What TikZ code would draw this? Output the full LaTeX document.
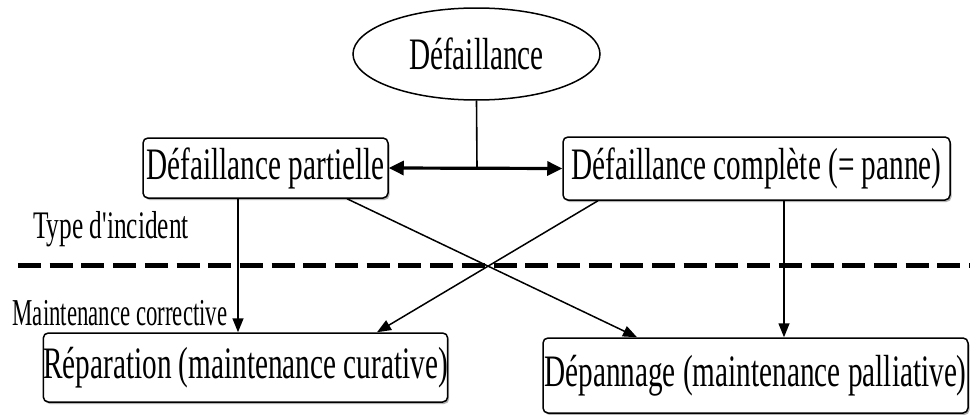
\documentclass[tikz,border=0pt]{standalone}
\usepackage{fontspec}
\usepackage{graphicx}
\setmainfont{Liberation Serif}
\usetikzlibrary{arrows.meta,shapes.geometric,shadows}
\newcommand\sqz[2][0.65]{\scalebox{#1}[1]{#2}}
\tikzset{
  boxnode/.style={draw, line width=1.5pt, rounded corners=5pt, fill=white,
    drop shadow={shadow xshift=1.5pt, shadow yshift=-2pt, fill=gray!60, opacity=1},
    inner sep=0pt, font=\fontsize{45}{50}\selectfont},
  arr/.style={-{Triangle[length=14pt,width=11pt]}, line width=1.5pt},
  dbl/.style={{Triangle[length=15pt,width=14pt]}-{Triangle[length=15pt,width=14pt]}, line width=3.2pt},
  lbl/.style={inner sep=0pt}
}
\begin{document}
\begin{tikzpicture}[x=1pt,y=-1pt]
\useasboundingbox (0,0) rectangle (970,415);
% ellipse
\node[ellipse, draw, line width=1.5pt, minimum width=247pt, minimum height=92pt, inner sep=0pt,
  font=\fontsize{45}{50}\selectfont] (e) at (476.5,54) {\sqz{Défaillance}};
% boxes
\node[boxnode, minimum width=245pt, minimum height=60pt] (p) at (265.5,168) {\sqz{Défaillance partielle}};
\node[boxnode, minimum width=387pt, minimum height=63pt] (c) at (756.5,168.5) {\sqz{Défaillance complète (= panne)}};
\node[boxnode, minimum width=393pt, minimum height=69pt] (r) at (245.5,367.5) {\sqz{Réparation (maintenance curative)}};
\node[boxnode, minimum width=425pt, minimum height=75pt] (d) at (755.5,375.5) {\sqz{Dépannage (maintenance palliative)}};
% labels
\node[lbl, font=\fontsize{39}{44}\selectfont] (t) at (111,229) {\sqz{Type d\textquotesingle incident}};
\node[lbl, font=\fontsize{38}{42}\selectfont] (mc) at (120,313) {\sqz[0.6]{Maintenance corrective}};
% dashed separator
\coordinate (dl) at (18,265);
\coordinate (dr) at (970,265);
\draw[line width=5pt, dash pattern=on 23pt off 8.7pt] (dl) -- (dr);
% double arrow and link
\draw[dbl] (p.east) -- (c.west);
\coordinate (m) at (477,168);
\draw[line width=1.6pt] (e.south) -- (m);
% x helpers
\coordinate (x1) at (238,0);
\coordinate (x2) at (347,0);
\coordinate (x3) at (637,0);
\coordinate (x4) at (598,0);
\coordinate (x5) at (377,0);
\coordinate (x6) at (784,0);
\draw[arr] (p.south -| x1) -- (r.north -| x1);
\draw[arr] (p.south -| x2) -- (d.north -| x3);
\draw[arr] (c.south -| x4) -- (r.north -| x5);
\draw[arr] (c.south -| x6) -- (d.north -| x6);
\end{tikzpicture}
\end{document}
